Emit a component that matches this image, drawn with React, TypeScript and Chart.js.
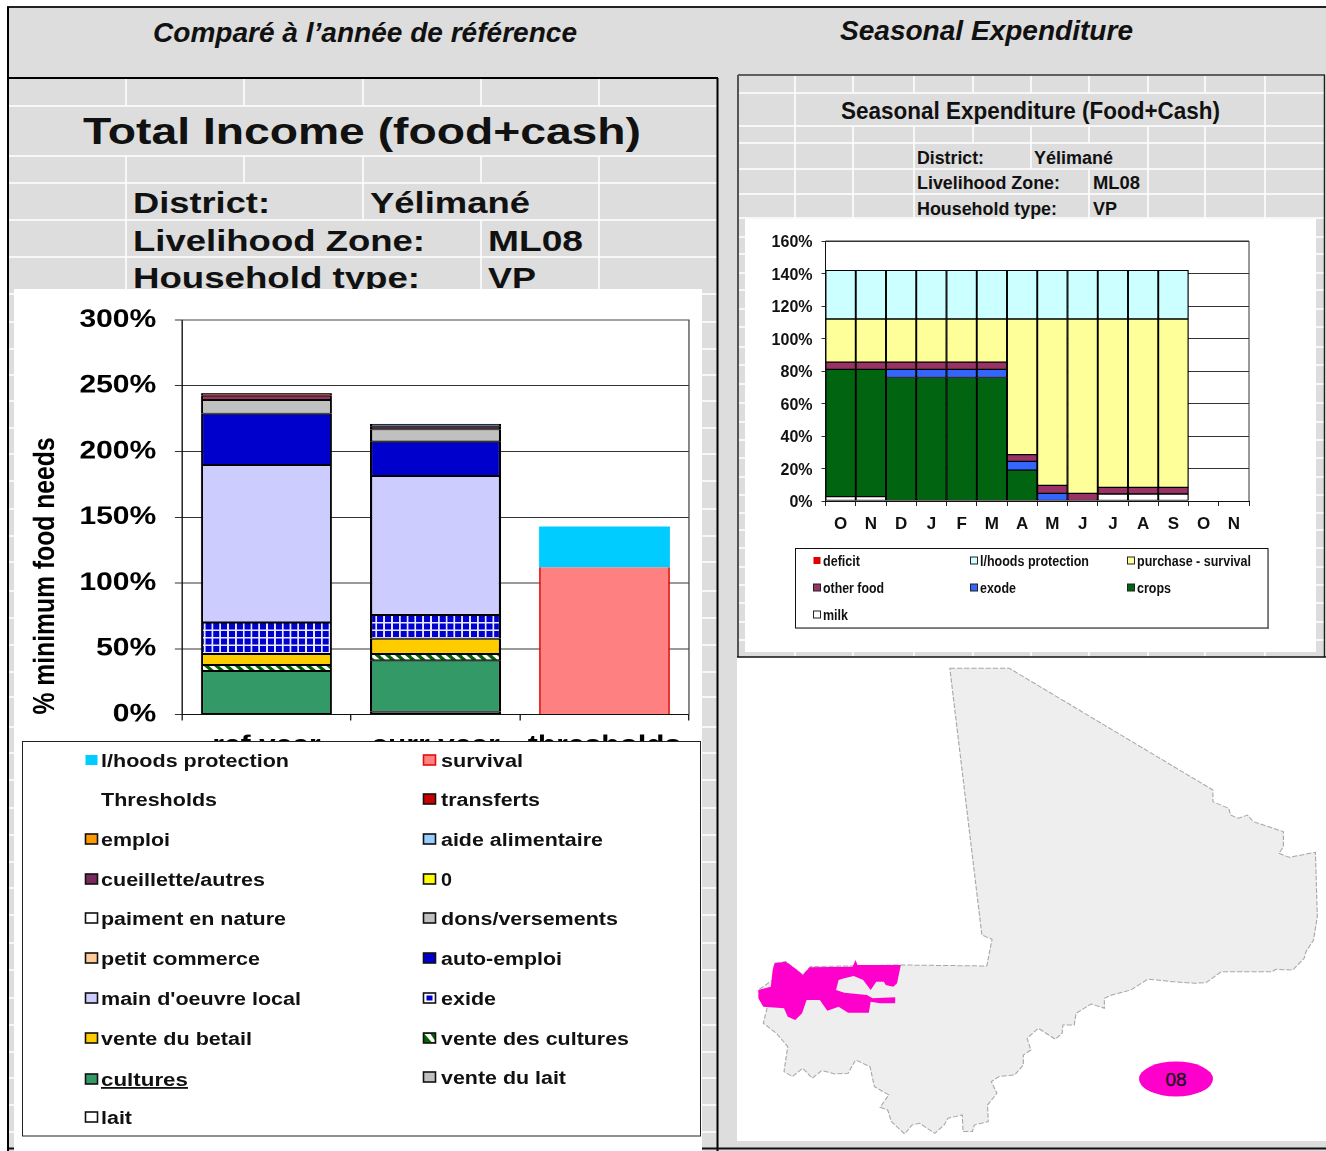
import React, { useEffect, useRef } from "react";
import { Chart, registerables } from "chart.js";

Chart.register(...registerables);

const FONT = "'Liberation Sans', Arial, sans-serif";
const GRAY = "#DDDDDD";

// ---------- Total income chart data ----------
const incomeCategories = ["ref year", "curr year", "thresholds"];
const incomeTicks = [0, 50, 100, 150, 200, 250, 300];
const lait = [0.4, 2.1, null];
const cultures = [32.7, 39.1, null];
const venteDuLait = [null, null, null];
const venteDesCultures = [4.5, 4.8, null];
const venteDuBetail = [8.4, 11.6, null];
const exide = [24, 18.1, null];
const mainDoeuvre = [119.7, 105.7, null];
const autoEmploi = [39, 26.1, null];
const petitCommerce = [null, null, null];
const dons = [10.5, 9.4, null];
const paiment = [null, null, null];
const zeroSeries = [null, null, null];
const cueillette = [3.2, 2, null];
const aide = [null, 2.1, null];
const emploi = [null, null, null];
const transferts = [2, null, null];
const survival = [null, null, 112];
const lhoodsThreshold = [null, null, 31];

// ---------- Seasonal expenditure chart data ----------
const months = ["O", "N", "D", "J", "F", "M", "A", "M", "J", "J", "A", "S", "O", "N"];
const seasonTicks = [0, 20, 40, 60, 80, 100, 120, 140, 160];
const milk = [2.7, 2.7, null, null, null, null, null, null, null, 4.3, 4.3, 4.3, null, null];
const crops = [78.3, 78.3, 76, 76, 76, 76, 19, null, null, null, null, null, null, null];
const exode = [null, null, 5, 5, 5, 5, 5.4, 4.7, null, null, null, null, null, null];
const otherFood = [4.5, 4.5, 4.5, 4.5, 4.5, 4.5, 4.1, 4.9, 4.7, 4.1, 4.1, 4.1, null, null];
const purchase = [26.5, 26.5, 26.5, 26.5, 26.5, 26.5, 83.5, 102.4, 107.3, 103.6, 103.6, 103.6, null, null];
const lhoods = [30, 30, 30, 30, 30, 30, 30, 30, 30, 30, 30, 30, null, null];

// ---------- Legends: [label, colour key, text left, text right, row centre] ----------
type LegendRow = [string, string, number, number, number];
const incomeLegend: LegendRow[] = [
  ["l/hoods protection", "#00CCFF", 101, 289, 761],
  ["survival", "#FF8080", 441, 523, 761],
  ["Thresholds", "", 101, 217, 800],
  ["transferts", "#CC0000", 441, 540, 800],
  ["emploi", "#FF9900", 101, 170, 840],
  ["aide alimentaire", "#99CCFF", 441, 603, 840],
  ["cueillette/autres", "#7A2A5A", 101, 265, 880],
  ["0", "#FFFF00", 441, 452, 880],
  ["paiment en nature", "#FFFFFF", 101, 286, 919],
  ["dons/versements", "#C0C0C0", 441, 618, 919],
  ["petit commerce", "#FFCC99", 101, 260, 959],
  ["auto-emploi", "#0000CC", 441, 562, 959],
  ["main d'oeuvre local", "#CCCCFF", 101, 301, 999],
  ["exide", "exide", 441, 496, 999],
  ["vente du betail", "#FFCC00", 101, 252, 1039],
  ["vente des cultures", "diag", 441, 629, 1039],
  ["cultures", "#339966", 101, 188, 1080],
  ["vente du lait", "#C0C0C0", 441, 566, 1078],
  ["lait", "#FFFFFF", 101, 132, 1118],
];
const seasonLegend: LegendRow[] = [
  ["deficit", "#E00000", 823, 860, 561],
  ["l/hoods protection", "#CCFFFF", 980, 1089, 561],
  ["purchase - survival", "#FFFF99", 1137, 1251, 561],
  ["other food", "#993366", 823, 884, 588],
  ["exode", "#3366FF", 980, 1016, 588],
  ["crops", "#006411", 1137, 1171, 588],
  ["milk", "#FFFFFF", 823, 848, 615],
];

// ---------- Spreadsheet backdrop ----------
const leftRows = [106, 156, 183, 220, 257, 294, 322, 349, 375, 401, 428, 454, 481, 509, 536, 562, 591, 618, 645, 672, 697, 727, 753, 780, 808, 835, 862, 888, 915, 943, 970, 998, 1025, 1052, 1078, 1105, 1132];
const rightRows = [93, 126, 143, 169, 194, 218, 237, 254, 273, 290, 309, 327, 347, 365, 384, 403, 422, 440, 458, 477, 495, 513, 530, 548, 567, 585, 603, 622, 640];
const leftCols: [number, number, number][] = [
  [126, 78, 106], [244, 78, 106], [363, 78, 106], [481, 78, 106], [599, 78, 106],
  [126, 156, 295], [244, 156, 183], [363, 156, 220], [481, 156, 183], [481, 220, 295], [599, 156, 295],
];
const rightCols: [number, number, number][] = [
  ...[795, 853, 914, 973, 1031, 1089, 1148, 1205, 1265].map((x): [number, number, number] => [x, 76, 93]),
  [795, 93, 126], [1265, 93, 126],
  ...[795, 853, 914, 973, 1031, 1089, 1148, 1205, 1265].map((x): [number, number, number] => [x, 126, 143]),
  ...[795, 853, 914, 1031, 1148, 1205, 1265].map((x): [number, number, number] => [x, 143, 169]),
  ...[795, 853, 914, 1089, 1148, 1205, 1265].map((x): [number, number, number] => [x, 169, 219]),
  ...[795, 853, 914, 973, 1031, 1089, 1148, 1205, 1265].map((x): [number, number, number] => [x, 652, 657]),
];

// [text, left, right, baseline, size, italic]
const headings: [string, number, number, number, number, boolean][] = [
  ["Comparé à l’année de référence", 153, 577, 42, 28, true],
  ["Seasonal Expenditure", 840, 1133, 40, 28, true],
  ["Total Income (food+cash)", 83, 641, 144, 37, false],
  ["District:", 133, 270, 213, 29, false],
  ["Yélimané", 370, 530, 213, 29, false],
  ["Livelihood Zone:", 133, 425, 251, 29, false],
  ["ML08", 488, 583, 251, 29, false],
  ["Household type:", 133, 420, 288, 29, false],
  ["VP", 488, 536, 288, 29, false],
  ["Seasonal Expenditure (Food+Cash)", 841, 1220, 119, 24, false],
  ["District:", 917, 984, 164, 18, false],
  ["Yélimané", 1034, 1113, 164, 18, false],
  ["Livelihood Zone:", 917, 1060, 189, 18, false],
  ["ML08", 1093, 1140, 189, 18, false],
  ["Household type:", 917, 1057, 215, 18, false],
  ["VP", 1093, 1117, 215, 18, false],
];

const maliOutline = "570,55 728,55 1268,420 1268,455 1310,475 1315,495 1335,505 1360,495 1375,515 1455,545 1455,590 1443,610 1470,622 1540,607 1545,800 1535,870 1515,905 1510,925 1480,960 1435,958 1425,965 1290,965 1250,998 1220,1000 1160,995 1120,990 1095,988 1050,1020 1000,1035 980,1045 980,1075 945,1062 905,1090 900,1125 870,1125 868,1150 850,1168 805,1135 775,1165 785,1200 765,1215 765,1245 742,1275 700,1280 680,1295 695,1330 670,1365 672,1415 635,1425 630,1445 605,1445 603,1395 565,1405 555,1425 530,1450 490,1420 470,1425 450,1452 415,1415 405,1380 385,1372 408,1335 370,1310 358,1250 320,1230 300,1270 265,1272 230,1262 205,1285 180,1255 152,1280 130,1265 140,1190 110,1150 75,1120 85,1075 62,1020 100,990 105,940 135,935 180,975 200,950 440,945 668,948 682,868 655,855";
const zone08 = "62,1020 95,1010 100,960 105,940 135,935 165,960 180,975 198,952 312,950 320,930 325,945 440,945 430,1000 420,1010 400,1005 395,995 375,995 360,1020 340,990 315,978 290,985 275,990 268,1020 290,1028 350,1035 365,1045 425,1042 425,1060 385,1060 360,1055 355,1088 300,1088 275,1070 245,1082 225,1050 190,1050 178,1090 160,1110 140,1100 130,1075 75,1070 62,1045";

function backingScale(p: CanvasPattern | null, fallback: string): CanvasPattern | string {
  if (!p) return fallback;
  p.setTransform(new DOMMatrix([0.5, 0, 0, 0.5, 0, 0]));
  return p;
}

function gridPattern(): CanvasPattern | string {
  const c = document.createElement("canvas");
  c.width = 13;
  c.height = 15;
  const g = c.getContext("2d")!;
  g.fillStyle = "#0000CC";
  g.fillRect(0, 0, 13, 15);
  g.fillStyle = "#E8E8FF";
  g.fillRect(4, 0, 3, 15);
  g.fillRect(0, 6, 13, 3);
  return backingScale(g.createPattern(c, "repeat"), "#0000CC");
}

function diagonalPattern(): CanvasPattern | string {
  const s = 17;
  const c = document.createElement("canvas");
  c.width = s;
  c.height = s;
  const g = c.getContext("2d")!;
  g.fillStyle = "#006600";
  g.fillRect(0, 0, s, s);
  g.strokeStyle = "#FFFFFF";
  g.lineWidth = 6;
  for (const o of [-s, 0, s]) {
    g.beginPath();
    g.moveTo(o, 0);
    g.lineTo(o + s, s);
    g.stroke();
  }
  return backingScale(g.createPattern(c, "repeat"), "#006600");
}

const frame = (color: string) => ({
  id: "frame",
  beforeDatasetsDraw(chart: any) {
    const { left, right, top, bottom } = chart.chartArea;
    const g = chart.ctx;
    g.save();
    g.strokeStyle = color;
    g.lineWidth = 1;
    g.beginPath();
    g.moveTo(left, top);
    g.lineTo(right, top);
    g.lineTo(right, bottom);
    g.stroke();
    g.restore();
  },
});

function Swatch({ x, y, w, h, kind }: { x: number; y: number; w: number; h: number; kind: string }) {
  if (!kind) return null;
  const clean = kind === "#00CCFF" || kind === "#E00000";
  const edge = kind === "#FF8080" ? "#E01010" : "#111";
  if (kind === "exide") {
    return (
      <g>
        <rect x={x} y={y} width={w} height={h} fill="#FFF" stroke="#111" strokeWidth={1.6} />
        <rect x={x + 3} y={y + 2.5} width={w - 6} height={h - 5} fill="#0000CC" />
      </g>
    );
  }
  if (kind === "diag") {
    return (
      <g>
        <rect x={x} y={y} width={w} height={h} fill="#006600" stroke="#111" strokeWidth={1.6} />
        <polygon points={`${x + 1},${y + 1} ${x + 7},${y + 1} ${x + w - 1},${y + h - 3} ${x + w - 1},${y + h - 1} ${x + 8},${y + h - 1}`} fill="#FFF" />
      </g>
    );
  }
  return <rect x={x} y={y} width={w} height={h} fill={kind} stroke={clean ? "none" : edge} strokeWidth={1.6} />;
}

export default function App() {
  const incomeRef = useRef<HTMLCanvasElement>(null);
  const seasonRef = useRef<HTMLCanvasElement>(null);

  useEffect(() => {
    const black = { left: 1.8, right: 1.8, top: 1, bottom: 1 };
    const incomeSeries: [string, (number | null)[], any][] = [
      ["lait", lait, "#FFFFFF"],
      ["cultures", cultures, "#339966"],
      ["vente du lait", venteDuLait, "#C0C0C0"],
      ["vente des cultures", venteDesCultures, diagonalPattern()],
      ["vente du betail", venteDuBetail, "#FFCC00"],
      ["exide", exide, gridPattern()],
      ["main d'oeuvre local", mainDoeuvre, "#CCCCFF"],
      ["auto-emploi", autoEmploi, "#0000CC"],
      ["petit commerce", petitCommerce, "#FFCC99"],
      ["dons/versements", dons, "#C0C0C0"],
      ["paiment en nature", paiment, "#FFFFFF"],
      ["0", zeroSeries, "#FFFF00"],
      ["cueillette/autres", cueillette, "#993366"],
      ["aide alimentaire", aide, "#6F9CC8"],
      ["emploi", emploi, "#FF9900"],
      ["transferts", transferts, "#CC0000"],
    ];
    const stretch = 688 / 573;
    const income = new Chart(incomeRef.current!, {
      type: "bar",
      data: {
        labels: incomeCategories,
        datasets: [
          ...incomeSeries.map(([label, data, backgroundColor]) => ({
            label,
            data,
            backgroundColor,
            borderColor: "#000",
            borderWidth: black,
            borderSkipped: false,
            barPercentage: 131 / 169,
            categoryPercentage: 1,
          })),
          {
            label: "survival",
            data: survival,
            backgroundColor: "#FF8080",
            borderColor: "#E01010",
            borderWidth: { left: 1.6, right: 1.6, top: 0, bottom: 0 },
            borderSkipped: false,
            barPercentage: 131 / 169,
            categoryPercentage: 1,
          },
          {
            label: "l/hoods protection",
            data: lhoodsThreshold,
            backgroundColor: "#00CCFF",
            borderWidth: 0,
            barPercentage: 131 / 169,
            categoryPercentage: 1,
          },
        ] as any,
      },
      options: {
        animation: false,
        responsive: false,
        devicePixelRatio: 2,
        layout: { padding: { top: 31, right: 573 - 675 / stretch, left: 0, bottom: 0 } },
        plugins: { legend: { display: false }, tooltip: { enabled: false } },
        scales: {
          x: {
            stacked: true,
            afterFit(s: any) { s.height = 26.5; s.paddingLeft = 0; s.paddingRight = 0; },
            grid: { drawOnChartArea: false, color: "#222", tickLength: 6 },
            border: { color: "#111" },
            ticks: { color: "#000", padding: 10, maxRotation: 0, autoSkip: false, font: { family: FONT, weight: "bold", size: 25 } },
          },
          y: {
            stacked: true,
            min: 0,
            max: 300,
            afterFit(s: any) { s.width = 168 / stretch; s.paddingTop = 0; s.paddingBottom = 0; },
            afterBuildTicks(s: any) { s.ticks = incomeTicks.map((value) => ({ value })); },
            grid: { color: "#333", tickLength: 6 },
            border: { color: "#111" },
            title: { display: true, text: "% minimum food needs", align: "start", color: "#000", padding: { top: 12, bottom: 0 }, font: { family: FONT, weight: "bold", size: 24.7 } },
            ticks: { color: "#000", padding: 15.5, callback: (v: any) => `${v}%`, font: { family: FONT, weight: "bold", size: 25 } },
          },
        },
      } as any,
      plugins: [frame("#444")],
    });

    const seasonSeries: [string, (number | null)[], string][] = [
      ["milk", milk, "#FFFFFF"],
      ["crops", crops, "#006411"],
      ["exode", exode, "#3366FF"],
      ["other food", otherFood, "#993366"],
      ["purchase - survival", purchase, "#FFFF99"],
      ["l/hoods protection", lhoods, "#CCFFFF"],
    ];
    const season = new Chart(seasonRef.current!, {
      type: "bar",
      data: {
        labels: months,
        datasets: seasonSeries.map(([label, data, backgroundColor]) => ({
          label,
          data,
          backgroundColor,
          borderColor: "#000",
          borderWidth: { left: 1.3, right: 1.3, top: 1, bottom: 1 },
          borderSkipped: false,
          barPercentage: 1,
          categoryPercentage: 1,
        })) as any,
      },
      options: {
        animation: false,
        responsive: false,
        devicePixelRatio: 1,
        layout: { padding: { top: 23, right: 67, left: 0, bottom: 0 } },
        plugins: { legend: { display: false }, tooltip: { enabled: false } },
        scales: {
          x: {
            stacked: true,
            afterFit(s: any) { s.height = 151; s.paddingLeft = 0; s.paddingRight = 0; },
            grid: { drawOnChartArea: false, color: "#222", tickLength: 5 },
            border: { color: "#111" },
            ticks: { color: "#111", padding: 8, maxRotation: 0, autoSkip: false, font: { family: FONT, weight: "bold", size: 17 } },
          },
          y: {
            stacked: true,
            min: 0,
            max: 160,
            afterFit(s: any) { s.width = 80.5; s.paddingTop = 0; s.paddingBottom = 0; },
            afterBuildTicks(s: any) { s.ticks = seasonTicks.map((value) => ({ value })); },
            grid: { color: "#333", tickLength: 4 },
            border: { color: "#111" },
            ticks: { color: "#111", padding: 9, labelOffset: 2, callback: (v: any) => `${v}%`, font: { family: FONT, weight: "bold", size: 16 } },
          },
        },
      } as any,
      plugins: [frame("#333")],
    });
    return () => {
      income.destroy();
      season.destroy();
    };
  }, []);

  const text = (key: string, t: string, l: number, r: number, y: number, size: number, italic = false, underline = false) => (
    <text
      key={key}
      x={l}
      y={y}
      textLength={r - l}
      lengthAdjust="spacingAndGlyphs"
      fontFamily={FONT}
      fontWeight="bold"
      fontStyle={italic ? "italic" : "normal"}
      fontSize={size}
      fill="#111"
      textDecoration={underline ? "underline" : "none"}
    >
      {t}
    </text>
  );

  const white = { stroke: "#FFF", strokeWidth: 1.5 };

  return (
    <div style={{ position: "absolute", left: 0, top: 0, width: 1326, height: 1151, overflow: "hidden", background: "#FFF" }}>
      <svg width={1326} height={1151} style={{ position: "absolute", left: 0, top: 0 }}>
        <rect x={8} y={7} width={1318} height={1144} fill={GRAY} />
        {leftRows.map((y) => <line key={`lr${y}`} x1={9} x2={717} y1={y} y2={y} {...white} />)}
        {leftCols.map(([x, a, b], i) => <line key={`lc${i}`} x1={x} x2={x} y1={a} y2={b} {...white} />)}
        {rightRows.map((y) => <line key={`rr${y}`} x1={739} x2={1324} y1={y} y2={y} {...white} />)}
        {rightCols.map(([x, a, b], i) => <line key={`rc${i}`} x1={x} x2={x} y1={a} y2={b} {...white} />)}
        {headings.map(([t, l, r, y, s, it], i) => text(`h${i}`, t, l, r, y, s, it))}

        {/* white sheets */}
        <rect x={14} y={289} width={688} height={862} fill="#FFF" />
        <rect x={745} y={219} width={571} height={433} fill="#FFF" />
        <rect x={737} y={657} width={589} height={484} fill="#FFF" />
        <rect x={1325} y={75} width={1} height={582} fill="#FFF" />

        {/* frames */}
        <line x1={7} x2={1326} y1={7} y2={7} stroke="#222" strokeWidth={2} />
        <line x1={8} x2={8} y1={7} y2={1151} stroke="#000" strokeWidth={2} />
        <line x1={8} x2={718} y1={78} y2={78} stroke="#000" strokeWidth={2} />
        <line x1={717.5} x2={717.5} y1={78} y2={1151} stroke="#000" strokeWidth={2} />
        <line x1={738} x2={1325} y1={75} y2={75} stroke="#333" strokeWidth={1.5} />
        <line x1={738} x2={738} y1={75} y2={657} stroke="#555" strokeWidth={2} />
        <line x1={1324.5} x2={1324.5} y1={75} y2={657} stroke="#222" strokeWidth={1.5} />
        <line x1={737} x2={1326} y1={657} y2={657} stroke="#111" strokeWidth={1.5} />
        <line x1={9} x2={14} y1={1148.5} y2={1148.5} stroke="#111" strokeWidth={2} />
        <line x1={702} x2={1326} y1={1148.5} y2={1148.5} stroke="#111" strokeWidth={2} />

        {/* locator map */}
        <g transform="translate(735,650) scale(0.3769,0.3333)">
          <polygon points={maliOutline} fill="#EEEEEE" stroke="#A8A8A8" strokeWidth={3} strokeDasharray="14 5" />
          <polygon points={zone08} fill="#FF00CC" />
        </g>
        <ellipse cx={1176} cy={1079} rx={37} ry={17.5} fill="#FF00CC" />
        <text x={1176} y={1086} textAnchor="middle" fontFamily={FONT} fontSize={19} fill="#111" stroke="#111" strokeWidth={0.3}>08</text>
      </svg>

      <div style={{ position: "absolute", left: 14, top: 289, width: 688, height: 452, overflow: "hidden" }}>
        <div style={{ transform: `scaleX(${688 / 573})`, transformOrigin: "0 0", width: 573, height: 452 }}>
          <canvas ref={incomeRef} width={573} height={452} />
        </div>
      </div>
      <div style={{ position: "absolute", left: 745, top: 218, width: 571, height: 434 }}>
        <canvas ref={seasonRef} width={571} height={434} />
      </div>

      <svg width={1326} height={1151} style={{ position: "absolute", left: 0, top: 0, pointerEvents: "none" }}>
        <rect x={22.5} y={741.5} width={678} height={394.5} fill="#FFF" stroke="#222" strokeWidth={1} />
        {incomeLegend.map(([t, kind, l, r, y], i) => (
          <g key={`il${i}`}>
            <Swatch x={l > 400 ? l - 17.5 : l - 15.5} y={y - 6} w={12} h={10} kind={kind} />
            {text(`it${i}`, t, l, r, y + 6, 18, false, t === "cultures")}
          </g>
        ))}
        <rect x={795.5} y={548.5} width={472.5} height={79.5} fill="#FFF" stroke="#111" strokeWidth={1} />
        <line x1={1268.5} x2={1268.5} y1={549} y2={629} stroke="#777" strokeWidth={1} />
        <line x1={796} x2={1269} y1={628.5} y2={628.5} stroke="#777" strokeWidth={1} />
        {seasonLegend.map(([t, kind, l, r, y], i) => (
          <g key={`sl${i}`}>
            <rect x={l - 9.5} y={y - 4} width={7} height={7} fill={kind} stroke={kind === "#E00000" ? "none" : "#222"} strokeWidth={1} />
            {text(`st${i}`, t, l, r, y + 5, 14)}
          </g>
        ))}
      </svg>
    </div>
  );
}
